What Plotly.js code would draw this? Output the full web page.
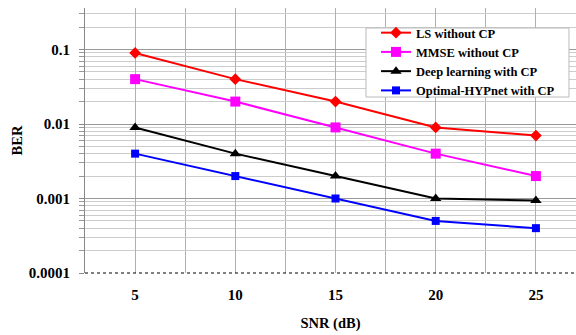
<!DOCTYPE html>
<html>
<head>
<meta charset="utf-8">
<script src="https://cdn.plot.ly/plotly-3.0.1.min.js"></script>
<style>html,body{margin:0;padding:0;background:#fff;}#chart{width:576px;height:335px;}</style>
</head>
<body>
<div id="chart"></div>
<script>
const snr = [5, 10, 15, 20, 25];
const lsWithoutCP = [0.09, 0.04, 0.02, 0.009, 0.007];
const mmseWithoutCP = [0.04, 0.02, 0.009, 0.004, 0.002];
const deepLearningWithCP = [0.009, 0.004, 0.002, 0.001, 0.00094];
const optimalHypnetWithCP = [0.004, 0.002, 0.001, 0.0005, 0.0004];
const seriesNames = ['LS without CP', 'MMSE without CP', 'Deep learning with CP', 'Optimal-HYPnet with CP'];
const yTickVals = [0.1, 0.01, 0.001, 0.0001];
const yTickText = ['0.1', '0.01', '0.001', '0.0001'];

const serif = "'Liberation Serif', 'Times New Roman', serif";

const traces = [
  {x: snr, y: lsWithoutCP, name: seriesNames[0], mode: 'lines+markers',
   line: {color: '#ff0000', width: 2}, marker: {symbol: 'diamond', size: 9, color: '#ff0000'}},
  {x: snr, y: mmseWithoutCP, name: seriesNames[1], mode: 'lines+markers',
   line: {color: '#ff00ff', width: 2}, marker: {symbol: 'square', size: 10, color: '#ff00ff'}},
  {x: snr, y: deepLearningWithCP, name: seriesNames[2], mode: 'lines+markers',
   line: {color: '#000000', width: 2}, marker: {symbol: 'triangle-up', size: 10, color: '#000000'}},
  {x: snr, y: optimalHypnetWithCP, name: seriesNames[3], mode: 'lines+markers',
   line: {color: '#0000ff', width: 2}, marker: {symbol: 'square', size: 8, color: '#0000ff'}}
];

const layout = {
  width: 576, height: 335,
  margin: {l: 85, r: 0, t: 8, b: 62},
  paper_bgcolor: '#ffffff', plot_bgcolor: '#ffffff',
  font: {family: serif, color: '#000', size: 15},
  showlegend: true,
  legend: {
    x: 0.5927, y: 0.798, xanchor: 'left', yanchor: 'middle',
    bgcolor: 'rgba(0,0,0,0)', borderwidth: 0,
    font: {family: serif, size: 12.5, color: '#000', weight: 'bold'},
    tracegroupgap: 0
  },
  xaxis: {
    range: [2.5, 27], tick0: 5, dtick: 5,
    showgrid: true, gridcolor: '#b0b0b0', gridwidth: 1,
    minor: {dtick: 2.5, tick0: 2.5, showgrid: true, gridcolor: '#b0b0b0', gridwidth: 1},
    zeroline: false, showline: false, ticks: '',
    ticklabelstandoff: 11,
    tickfont: {family: serif, size: 15, weight: 'bold'},
    title: {text: 'SNR (dB)', font: {family: serif, size: 14.5, weight: 'bold'}, standoff: 15}
  },
  yaxis: {
    type: 'log', range: [-4, -0.443],
    tickvals: yTickVals, ticktext: yTickText,
    showgrid: true, gridcolor: '#999999', gridwidth: 1,
    minor: {dtick: 'D1', showgrid: true, gridcolor: '#cccccc', gridwidth: 1, ticks: 'outside', ticklen: 5, tickcolor: '#999999'},
    showline: true, linecolor: '#888888', linewidth: 1,
    ticks: 'outside', ticklen: 5, tickcolor: '#888888',
    ticklabelstandoff: 6,
    zeroline: false,
    tickfont: {family: serif, size: 15, weight: 'bold'},
    title: {text: 'BER', font: {family: serif, size: 14.5, weight: 'bold'}, standoff: 2}
  },
  shapes: [
    {type: 'line', xref: 'paper', yref: 'y domain', x0: 0, x1: 1, y0: 0, y1: 0,
     line: {color: '#000000', width: 1, dash: 'dot'}},
    {type: 'rect', xref: 'paper', yref: 'paper', x0: 0.5723, x1: 0.9857, y0: 0.664, y1: 0.9245,
     layer: 'above', fillcolor: '#ffffff', line: {color: '#bbbbbb', width: 1}}
  ]
};

Plotly.newPlot('chart', traces, layout, {displayModeBar: false, staticPlot: true});
</script>
</body>
</html>
